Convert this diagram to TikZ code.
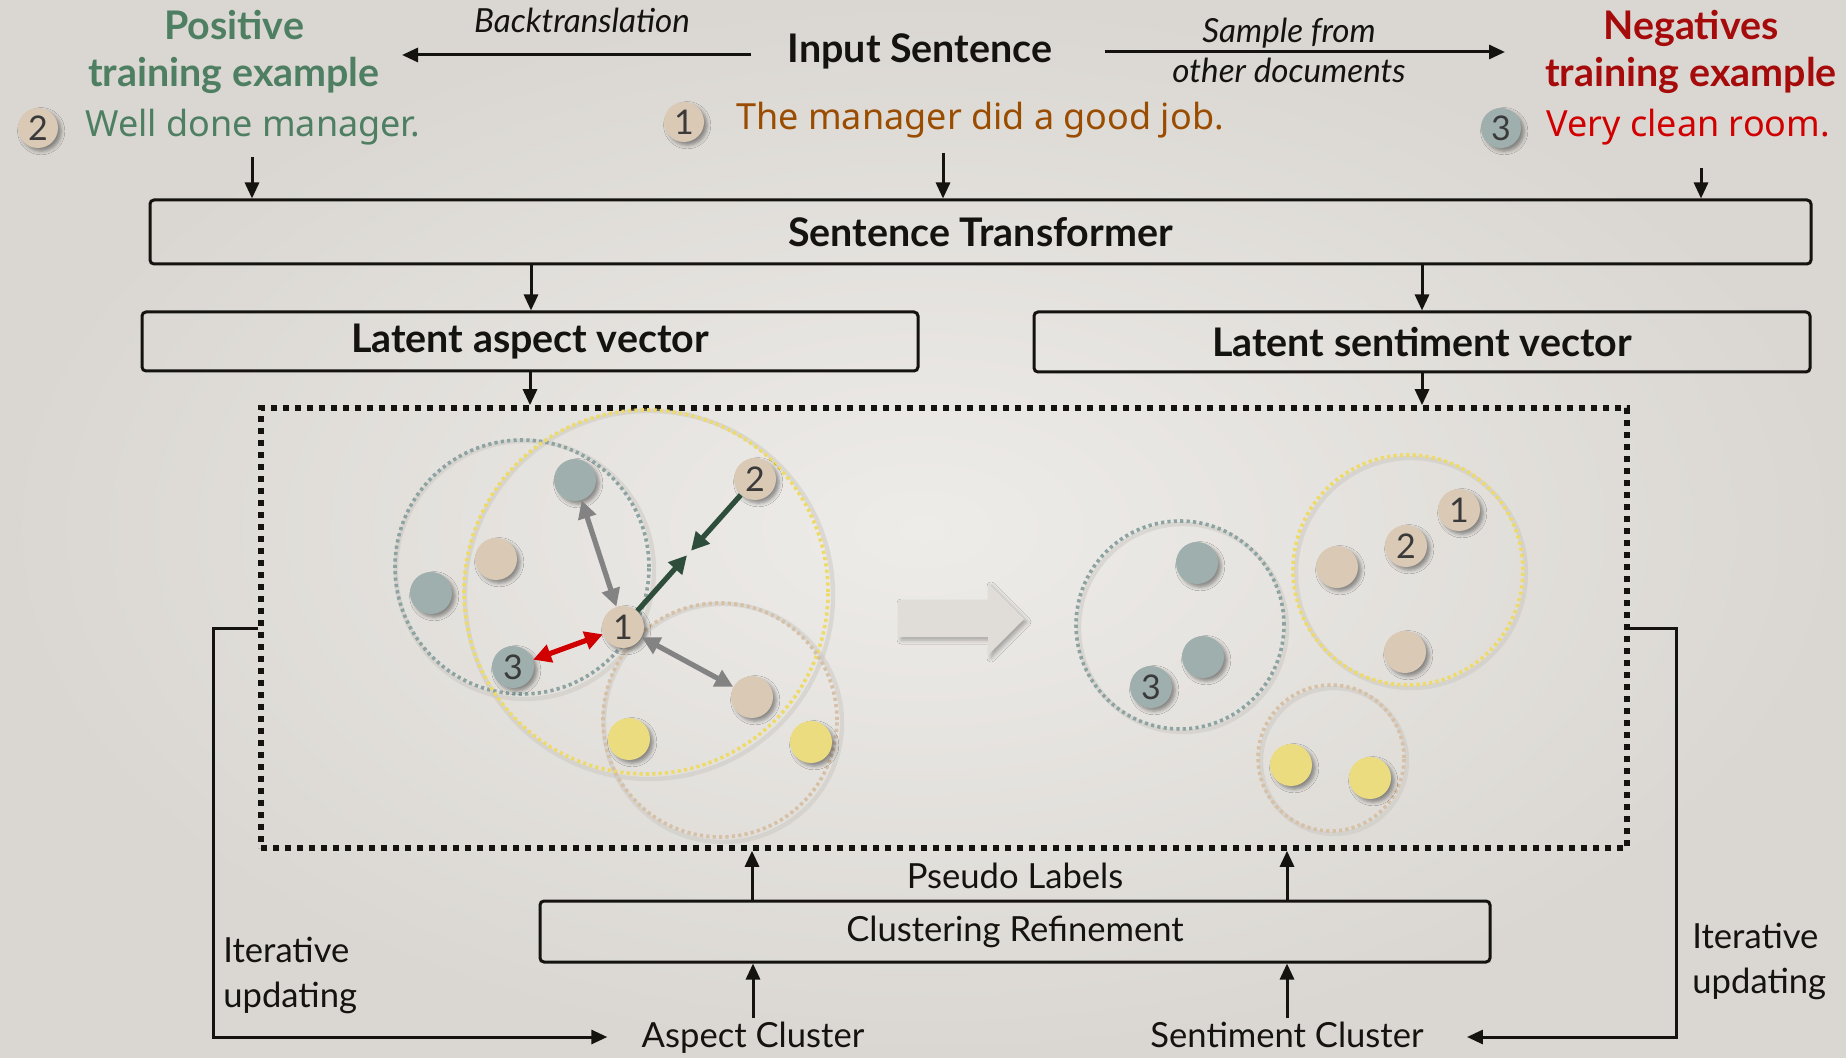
\documentclass[tikz,border=0pt]{standalone}
\usepackage{fontspec}
\setmainfont{Lato}
\newfontfamily\handfont{Noto Sans}
\usetikzlibrary{arrows.meta,shadows.blur,calc}

\definecolor{bgin}{HTML}{EEECE9}
\definecolor{bgout}{HTML}{DAD7D2}
\definecolor{ink}{HTML}{15130F}
\definecolor{posgreen}{HTML}{4E7F63}
\definecolor{negred}{HTML}{A60B0B}
\definecolor{sentbrown}{HTML}{9A4D00}
\definecolor{sentred}{HTML}{D10000}
\definecolor{dotteal}{HTML}{9EAFAD}
\definecolor{dotbeige}{HTML}{D9C9B5}
\definecolor{dotyellow}{HTML}{EBDC80}
\definecolor{ringteal}{HTML}{8CA3A1}
\definecolor{ringyellow}{HTML}{EEDA66}
\definecolor{ringbeige}{HTML}{D6C0A6}
\definecolor{rimgrey}{HTML}{CBC8C3}
\definecolor{pullgreen}{HTML}{2E4D3A}
\definecolor{pushred}{HTML}{D00000}
\definecolor{linkgrey}{HTML}{838383}
\definecolor{numgrey}{HTML}{3A3A3A}
\definecolor{blockgrey}{HTML}{E0DDD8}

\tikzset{
  txt/.style={inner sep=0pt, text=ink},
  regular/.style={txt, font=\fontsize{17.3}{22.5}\selectfont},
  heading/.style={txt, font=\bfseries\fontsize{19.7}{23.5}\selectfont},
  note/.style={txt, font=\itshape\fontsize{16.6}{20}\selectfont, align=center},
  example/.style={inner sep=0pt, font=\handfont\fontsize{18}{20}\selectfont},
  stagebox/.style={draw=ink, line width=1.5pt, rounded corners=2pt, inner sep=0pt},
  arr/.style={draw=ink, line width=1.5pt, -{Triangle[length=8pt,width=7pt]}},
  embbox/.style={draw=ink, line width=2.8pt, dash pattern=on 3.2pt off 2.8pt, inner sep=0pt},
  dot/.style={circle, minimum size=21pt, inner sep=0pt, text=numgrey,
    font=\fontsize{17}{17}\selectfont,
    blur shadow={shadow xshift=1.6pt, shadow yshift=-1.6pt, shadow blur radius=1.8pt, shadow opacity=40}},
  tealdot/.style={dot, fill=dotteal},
  beigedot/.style={dot, fill=dotbeige},
  yellowdot/.style={dot, fill=dotyellow},
  badge/.style={dot, minimum size=20pt},
  ring/.style={line width=1.8pt, dash pattern=on 1.6pt off 1.6pt},
  rim/.style={draw=rimgrey, line width=2.2pt, opacity=0.5},
  link/.style={draw=linkgrey, line width=2.6pt, {Triangle[length=9pt,width=9pt]}-{Triangle[length=9pt,width=9pt]}},
  push/.style={link, draw=pushred},
  pull/.style={draw=pullgreen, line width=2.6pt, -{Triangle[length=9pt,width=9pt]}, shorten >=1.5pt},
}

\begin{document}
\begin{tikzpicture}[x=0.5pt, y=-0.5pt]
  % canvas with a soft vignette
  \useasboundingbox (0,0) rectangle (1846,1058);
  \shade[inner color=bgin, outer color=bgout] (0,0) rectangle (1846,1058);

  % ---- top row: examples ----
  \node[heading, text=posgreen, align=center, anchor=base] (pos) at (234,87) {Positive\\training example};
  \node[badge, fill=dotbeige] (c2) at (38,128) {2};
  \node[example, text=posgreen, anchor=base west] (ex2) at (85,137) {Well done manager.};

  \node[heading, anchor=base] (inp) at (920,63) {Input Sentence};
  \node[badge, fill=dotbeige] (c1) at (684,122) {1};
  \node[example, text=sentbrown, anchor=base west] (ex1) at (736,130) {The manager did a good job.};

  \node[heading, text=negred, align=center, anchor=base] (neg) at (1691,87) {Negatives\\training example};
  \node[badge, fill=dotteal] (c3) at (1501,128) {3};
  \node[example, text=sentred, anchor=base west] (ex3) at (1546,137) {Very clean room.};

  \node[note, anchor=base] (bt) at (582,33) {Backtranslation};
  \node[note, anchor=base] (sd) at (1289,83) {Sample from\\other documents};

  \coordinate (btfrom) at (751,55);
  \coordinate (btto) at (402,55);
  \coordinate (sdfrom) at (1105,52);
  \coordinate (sdto) at (1505,52);
  \draw[arr] (btfrom) -- (btto);
  \draw[arr] (sdfrom) -- (sdto);

  % ---- encoder stages ----
  \node[stagebox, minimum width=830.5pt, minimum height=32pt] (st) at (980.5,232) {};
  \node[heading] (stlab) at (st.center) {Sentence Transformer};
  \node[stagebox, minimum width=388pt, minimum height=29.5pt] (la) at (530,341.5) {};
  \node[heading] (lalab) at (la.center) {Latent aspect vector};
  \node[stagebox, minimum width=388pt, minimum height=30pt] (ls) at (1422,342) {};
  \node[heading] (lslab) at (ls.center) {Latent sentiment vector};

  \coordinate (d2) at (252,157);
  \coordinate (d1) at (943,153);
  \coordinate (d3) at (1701,168);
  \draw[arr] (d2) -- (d2 |- st.north);
  \draw[arr] (d1) -- (d1 |- st.north);
  \draw[arr] (d3) -- (d3 |- st.north);

  \draw[arr] (531,0 |- st.south) -- (531,0 |- la.north);
  \draw[arr] (ls.north |- st.south) -- (ls.north);

  % ---- embedding space ----
  \node[embbox, minimum width=683pt, minimum height=220pt] (emb) at (944,628) {};
  \draw[arr] (la.south) -- (la.south |- emb.north);
  \draw[arr] (ls.south) -- (ls.south |- emb.north);

  % clusters before refinement
  \draw[rim] (525,570) circle[radius=64.5pt];
  \draw[rim] (649,595) circle[radius=92pt];
  \draw[rim] (723,723) circle[radius=59.5pt];
  \draw[ring, ringteal] (522,567) circle[radius=63.5pt];
  \draw[ring, ringyellow] (646,592) circle[radius=91pt];
  \draw[ring, ringbeige] (720,720) circle[radius=58.5pt];

  \node[tealdot] (a1) at (575,480) {};
  \node[beigedot] (a2) at (496,559) {};
  \node[tealdot] (a3) at (431,593) {};
  \node[beigedot] (p1) at (623,627) {1};
  \node[tealdot] (p3) at (513,667) {3};
  \node[beigedot] (p2) at (755,479) {2};
  \node[beigedot] (a4) at (752,697) {};
  \node[yellowdot] (a5) at (629,739) {};
  \node[yellowdot] (a6) at (811,742) {};

  \draw[link] (a1) -- (p1);
  \draw[link] (p1) -- (a4);
  \draw[push] (p1) -- (p3);
  \coordinate (mid) at ($(p1)!0.5!(p2)$);
  \draw[pull] (p2) -- (mid);
  \draw[pull] (p1) -- (mid);

  % refinement step
  \fill[blockgrey, blur shadow={shadow xshift=1.5pt, shadow yshift=-1.5pt, shadow blur radius=2pt, shadow opacity=30}]
    (898,600) -- (988,600) -- (988,583) -- (1024,619) -- (988,655) -- (988,637) -- (898,637) -- cycle;

  % clusters after refinement
  \draw[rim] (1183,628) circle[radius=52pt];
  \draw[rim] (1411,573) circle[radius=57.5pt];
  \draw[rim] (1334,761) circle[radius=36.5pt];
  \draw[ring, ringteal] (1180,625) circle[radius=52pt];
  \draw[ring, ringyellow] (1408,570) circle[radius=57.5pt];
  \draw[ring, ringbeige] (1331,758) circle[radius=36.5pt];

  \node[tealdot] (b1) at (1197,563) {};
  \node[tealdot] (b2) at (1203,657) {};
  \node[tealdot] (q3) at (1151,687) {3};
  \node[beigedot] (b3) at (1337,567) {};
  \node[beigedot] (q2) at (1406,546) {2};
  \node[beigedot] (q1) at (1459,510) {1};
  \node[beigedot] (b4) at (1405,652) {};
  \node[yellowdot] (b5) at (1291,765) {};
  \node[yellowdot] (b6) at (1370,778) {};

  % ---- clustering refinement ----
  \node[regular, anchor=base] (pl) at (1015,888) {Pseudo Labels};
  \node[stagebox, minimum width=475pt, minimum height=30.5pt] (cr) at (1015,931.5) {};
  \node[regular] (crlab) at (cr.center) {Clustering Refinement};
  \node[regular, anchor=base] (asp) at (753,1047) {Aspect Cluster};
  \node[regular, anchor=base] (sen) at (1287,1047) {Sentiment Cluster};

  \draw[arr] (752,0 |- cr.north) -- (752,0 |- emb.south);
  \draw[arr] (1287,0 |- cr.north) -- (1287,0 |- emb.south);
  \draw[arr] (asp.north) ++(0,-3) -- (asp.north |- cr.south);
  \draw[arr] (sen.north) ++(0,-3) -- (sen.north |- cr.south);

  % ---- iterative updating loops ----
  \coordinate (fbl) at (213,1037);
  \coordinate (fbr) at (1676,1037);
  \draw[arr, shorten >=17pt] (emb.west) -| (fbl) -- (fbl -| asp.west);
  \draw[arr, shorten >=21.5pt] (emb.east) -| (fbr) -- (fbr -| sen.east);
  \node[regular, align=left, anchor=base west] (itl) at (223,1007) {Iterative\\updating};
  \node[regular, align=left, anchor=base west] (itr) at (1692,993) {Iterative\\updating};
\end{tikzpicture}
\end{document}
